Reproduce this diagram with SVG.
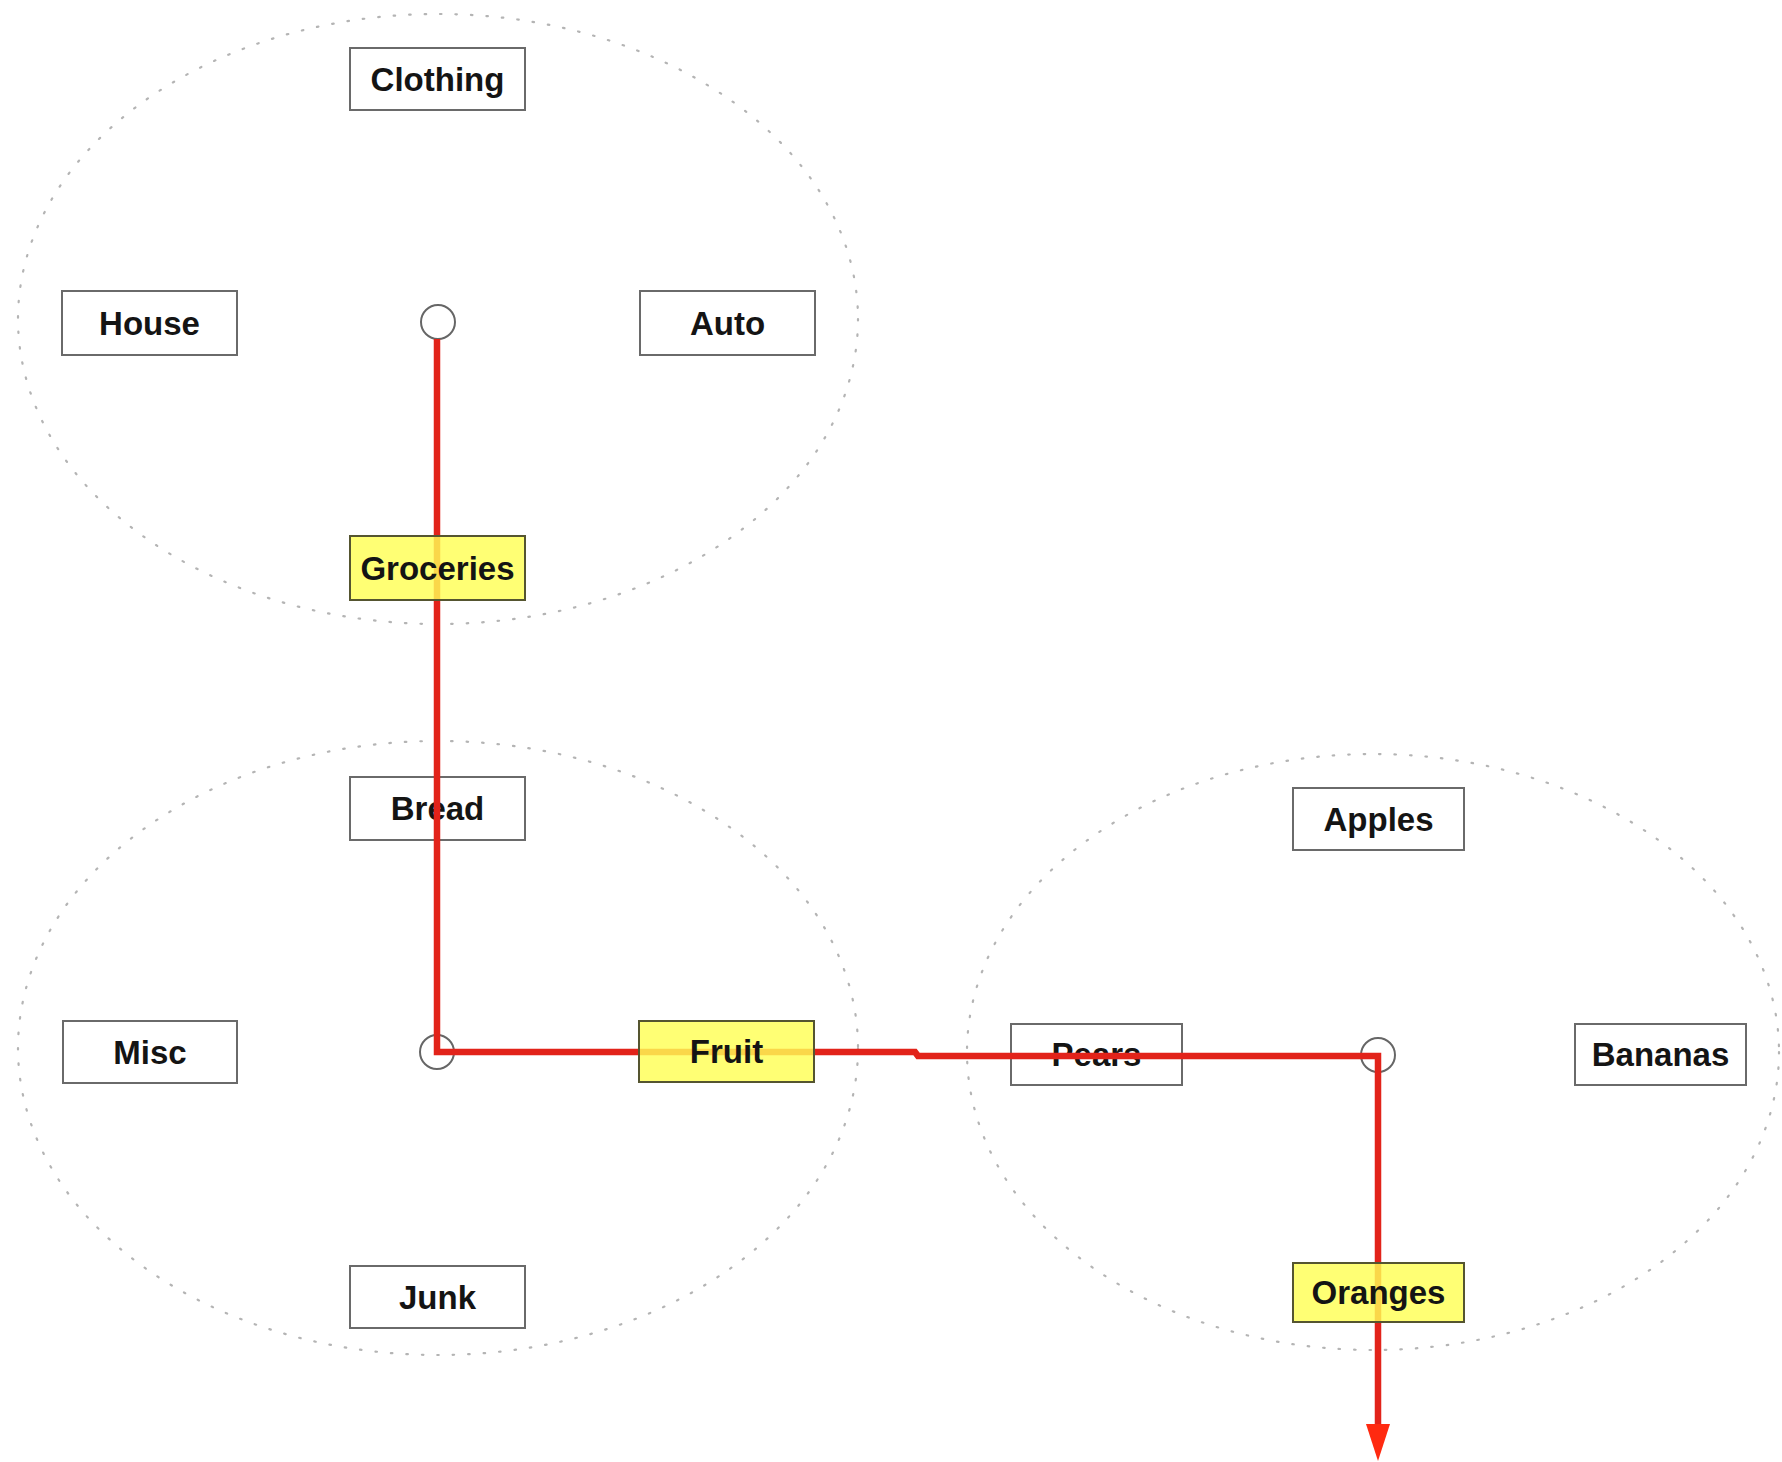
<svg xmlns="http://www.w3.org/2000/svg" width="1782" height="1462" viewBox="0 0 1782 1462">
  <style>
    .zone { fill: none; stroke: #b4b4b4; stroke-width: 2.2; stroke-dasharray: 1.5 14; stroke-linecap: round; }
    .box { fill: #ffffff; stroke: #6a6a6a; stroke-width: 2; }
    .hl { fill: #ffff55; fill-opacity: 0.82; stroke: #555530; stroke-width: 2; }
    .hub { fill: none; stroke: #666666; stroke-width: 2; }
    .label { font-family: "Liberation Sans", Arial, Helvetica, sans-serif; font-weight: bold; font-size: 33px; fill: #141414; text-anchor: middle; }
    .route { fill: none; stroke: #e2231a; stroke-width: 6.5; stroke-linejoin: miter; }
    .tip { fill: #ff2a10; }
  </style>

  <rect width="1782" height="1462" fill="#ffffff"/>

  <!-- dotted grouping rings -->
  <g id="zones">
    <ellipse id="zone-top" class="zone" cx="438" cy="319" rx="420" ry="305"/>
    <ellipse id="zone-groceries" class="zone" cx="438" cy="1048" rx="420" ry="307"/>
    <ellipse id="zone-fruit" class="zone" cx="1373" cy="1052" rx="406" ry="298"/>
  </g>

  <!-- hub markers -->
  <g id="hub-top"><circle class="hub" cx="438" cy="322" r="17"/></g>
  <g id="hub-groceries"><circle class="hub" cx="437" cy="1052" r="17"/></g>
  <g id="hub-fruit"><circle class="hub" cx="1378" cy="1055" r="17"/></g>

  <!-- plain category boxes -->
  <g id="clothing"><rect class="box" x="350" y="48" width="175" height="62"/><text class="label" x="437.5" y="90.5">Clothing</text></g>
  <g id="house"><rect class="box" x="62" y="291" width="175" height="64"/><text class="label" x="149.5" y="334.5">House</text></g>
  <g id="auto"><rect class="box" x="640" y="291" width="175" height="64"/><text class="label" x="727.5" y="334.5">Auto</text></g>
  <g id="bread"><rect class="box" x="350" y="777" width="175" height="63"/><text class="label" x="437.5" y="820">Bread</text></g>
  <g id="misc"><rect class="box" x="63" y="1021" width="174" height="62"/><text class="label" x="150" y="1063.5">Misc</text></g>
  <g id="junk"><rect class="box" x="350" y="1266" width="175" height="62"/><text class="label" x="437.5" y="1308.5">Junk</text></g>
  <g id="apples"><rect class="box" x="1293" y="788" width="171" height="62"/><text class="label" x="1378.5" y="830.5">Apples</text></g>
  <g id="pears"><rect class="box" x="1011" y="1024" width="171" height="61"/><text class="label" x="1096.5" y="1066">Pears</text></g>
  <g id="bananas"><rect class="box" x="1575" y="1024" width="171" height="61"/><text class="label" x="1660.5" y="1066">Bananas</text></g>

  <!-- drill-down route -->
  <g id="connectors">
    <path class="route" d="M437 339 V1052 H915 L918 1056 H1378 V1428"/>
    <path class="tip" d="M1366 1424 L1390 1424 L1378 1461 Z"/>
  </g>

  <!-- highlighted path boxes -->
  <g id="groceries"><rect class="hl" x="350" y="536" width="175" height="64"/><text class="label" x="437.5" y="579.5">Groceries</text></g>
  <g id="fruit"><rect class="hl" x="639" y="1021" width="175" height="61"/><text class="label" x="726.5" y="1063">Fruit</text></g>
  <g id="oranges"><rect class="hl" x="1293" y="1263" width="171" height="59"/><text class="label" x="1378.5" y="1304">Oranges</text></g>
</svg>
